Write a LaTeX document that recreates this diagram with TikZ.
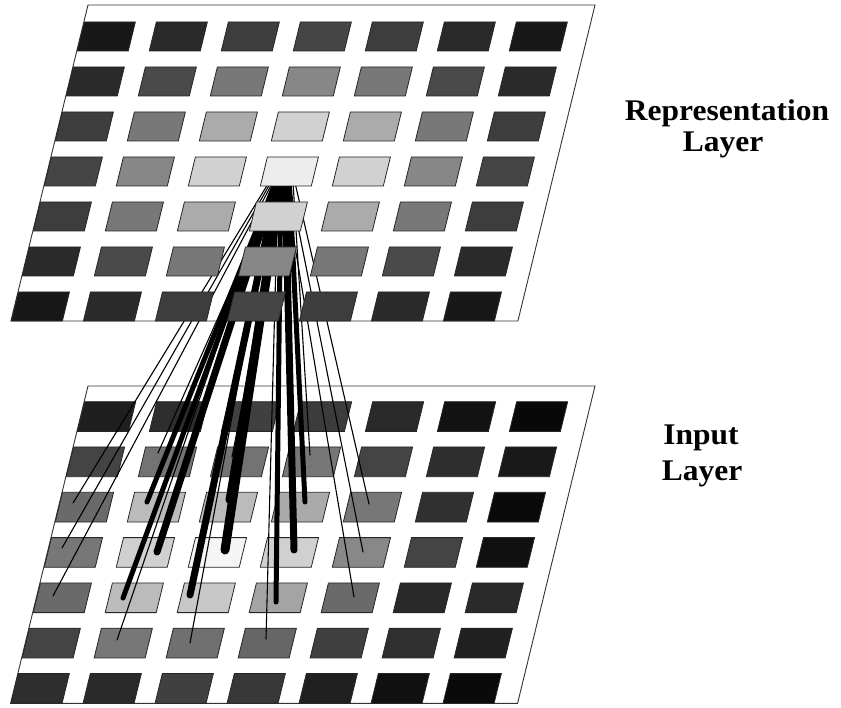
\documentclass[tikz,border=0pt]{standalone}
\usepackage{fontspec}
\setmainfont{Liberation Serif}
\usepackage{graphicx}
\begin{document}
\begin{tikzpicture}[x=1pt,y=-1pt,
  plane/.style={fill=white,draw=black!80,line width=0.9pt},
  cellbox/.style={draw=black!85,line width=0.8pt},
  wire/.style={line cap=round,draw=black},
  lab/.style={font=\fontsize{30}{35}\selectfont\bfseries,anchor=base,inner sep=0pt}]
\useasboundingbox (0,0) rectangle (841,708);
\fill[white] (0,0) rectangle (841,708);

% ---------- upper plane (background) ----------
\begin{scope}[shift={(88,5)},xslant=0.244]
  \draw[plane] (0,0) -- (507,0) -- (507,316) -- (0,316) -- cycle;
\end{scope}

% ---------- lower plane ----------
\begin{scope}[shift={(88,386)},xslant=0.244]
  \draw[plane] (0,0) -- (507,0) -- (507,317.3) -- (0,317.3) -- cycle;
  \foreach \r/\row in {
    1/{.12,.18,.25,.235,.165,.07,.03},
    2/{.267,.45,.45,.467,.267,.18,.1},
    3/{.416,.733,.733,.667,.467,.19,.04},
    4/{.467,.816,.96,.816,.533,.267,.063},
    5/{.416,.733,.784,.643,.416,.157,.165},
    6/{.267,.467,.44,.4,.25,.19,.125},
    7/{.18,.165,.25,.22,.125,.063,.04}} {
    \foreach \g [count=\c] in \row {
      \definecolor{cf}{gray}{\g}
      \pgfmathsetmacro\u{72*(\c-1)+0.5}
      \pgfmathsetmacro\v{15.7+45.3*(\r-1)}
      \filldraw[cellbox,fill=cf] (\u,\v) -- ++(51,0) -- ++(0,29.7) -- ++(-51,0) -- cycle;
    }
  }
\end{scope}

% ---------- connections ----------
\foreach \n/\sx/\sy/\tx/\ty/\w in {
  22/287.7/161/158/453/1.1,
  23/289.4/161/232/457/1.1,
  24/291.7/161/310/455/1.1,
  31/282.0/161/73/503/1.1,
  32/284.1/161/147/502/5,
  33/286.4/161/229/500/7,
  34/288.3/161/305/502/5,
  35/290.0/161/369/504/1.1,
  41/278.7/168.6/62/548/1.1,
  42/281.0/169.4/157/552/7,
  43/283.0/169/225/550/9,
  44/284.8/169/294/550/7,
  45/286.6/169.4/363/552/1.1,
  51/275.2/177.7/53/596/1.1,
  52/277.0/178.1/123/598/5,
  53/279.0/177.6/190/595/7,
  54/280.9/178.9/276/602/5,
  55/283.4/177.9/354/597/1.1,
  62/274.1/181/117/640/1.1,
  63/275.8/181/190/643/1.1,
  64/278.1/181/266/639/1.1} {
  \coordinate (s\n) at (\sx,\sy);
  \coordinate (t\n) at (\tx,\ty);
  \draw[wire,line width=\w pt] (s\n) -- (t\n);
}

% ---------- upper plane cells ----------
\begin{scope}[shift={(88,5)},xslant=0.244]
  \foreach \r/\row in {
    1/{.094,.165,.24,.27,.24,.165,.094},
    2/{.165,.29,.47,.53,.47,.29,.165},
    3/{.24,.47,.67,.82,.67,.47,.24},
    4/{.27,.53,.82,.93,.82,.53,.27},
    5/{.24,.47,.67,.82,.67,.47,.24},
    6/{.165,.29,.47,.53,.47,.29,.165},
    7/{.094,.165,.24,.27,.24,.165,.094}} {
    \foreach \g [count=\c] in \row {
      \definecolor{cf}{gray}{\g}
      \pgfmathsetmacro\u{72*(\c-1)+0.5}
      \pgfmathsetmacro\v{17+45*(\r-1)}
      \filldraw[cellbox,fill=cf] (\u,\v) -- ++(51,0) -- ++(0,29) -- ++(-51,0) -- cycle;
    }
  }
\end{scope}

% ---------- labels ----------
\node[lab] (repA) at (727,121) {\scalebox{1.05}[1]{Representation}};
\node[lab] (repB) at (723,152) {\scalebox{1.05}[1]{Layer}};
\node[lab] (inA) at (701,445) {\scalebox{1.05}[1]{Input}};
\node[lab] (inB) at (702,480) {\scalebox{1.05}[1]{Layer}};
\end{tikzpicture}
\end{document}
